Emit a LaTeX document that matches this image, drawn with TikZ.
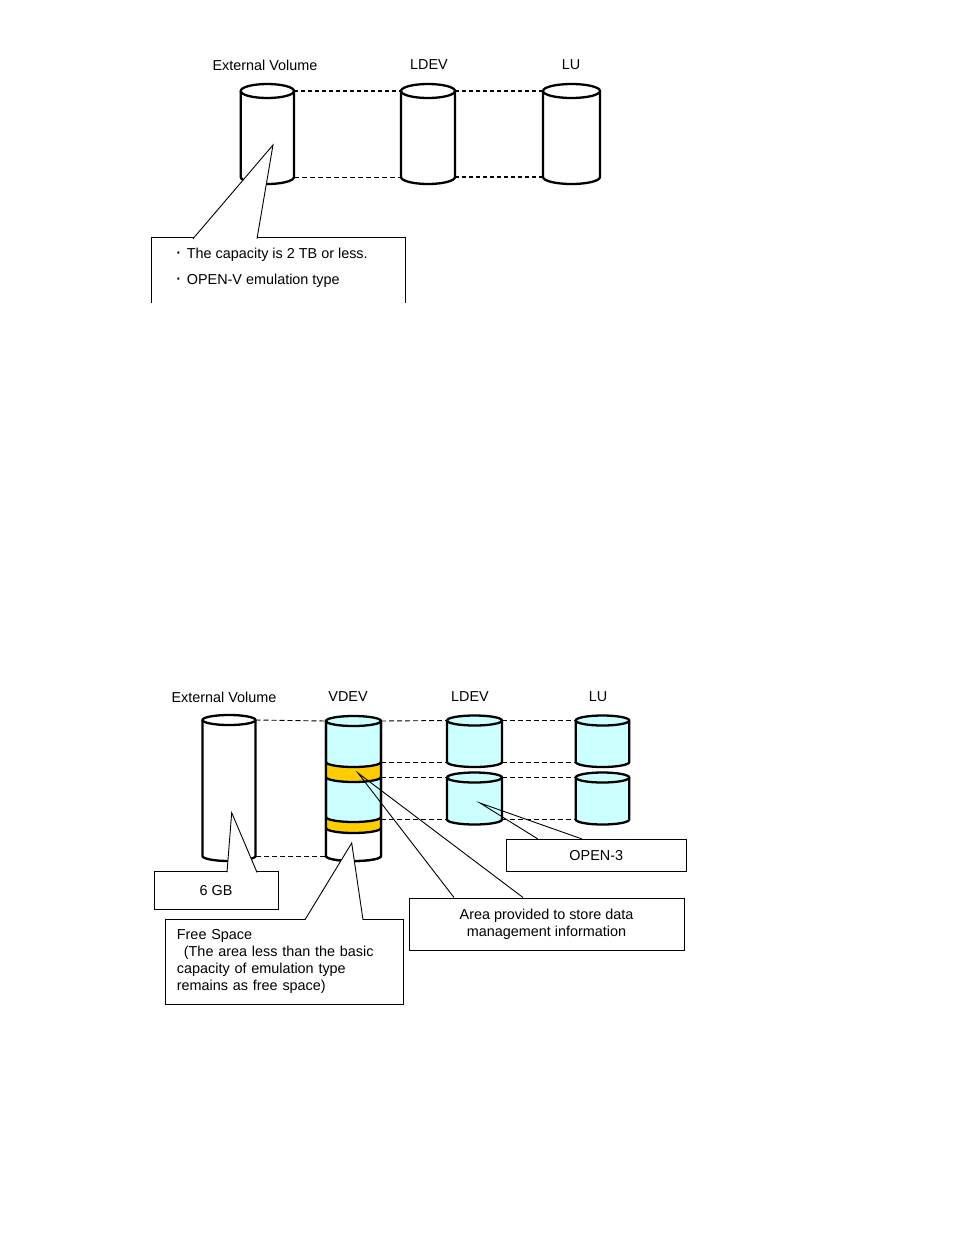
\documentclass[tikz,border=0pt]{standalone}
\usepackage{fontspec}
\setmainfont{Liberation Sans}
\usepackage{tikz}
\definecolor{volcyan}{HTML}{CCFFFF}
\definecolor{bandgold}{HTML}{FFCC00}

% half height of the cylinder caps
\def\ry{7}
% bigger list dot
\newcommand{\listdot}{{\fontsize{20}{17}\selectfont·}\hspace{5pt}}

% body strip between two front arcs: left x, right x, upper y, lower y, colour
\newcommand{\slab}[5]{%
  \fill[#5] (#1,#3) arc[start angle=180, end angle=0, x radius={(#2-#1)/2}, y radius=\ry]
    -- (#2,#4) arc[start angle=0, end angle=180, x radius={(#2-#1)/2}, y radius=\ry] -- cycle;}
% front arc only
\newcommand{\frontarc}[3]{%
  \draw[cyl] (#1,#3) arc[start angle=180, end angle=0, x radius={(#2-#1)/2}, y radius=\ry];}
% sides and bottom of a cylinder
\newcommand{\rim}[4]{%
  \draw[cyl] (#1,#3) -- (#1,#4) arc[start angle=180, end angle=0, x radius={(#2-#1)/2}, y radius=\ry] -- (#2,#3);}
% whole cylinder: name, left x, right x, top y, bottom y, colour
\newcommand{\volume}[6]{%
  \slab{#2}{#3}{#4}{#5}{#6}
  \filldraw[cyl, fill=#6] ({(#2+#3)/2},#4) ellipse[x radius={(#3-#2)/2}, y radius=\ry];
  \rim{#2}{#3}{#4}{#5}
  \coordinate (#1-nw) at (#2,#4); \coordinate (#1-ne) at (#3,#4);
  \coordinate (#1-sw) at (#2,#5); \coordinate (#1-se) at (#3,#5);}

\begin{document}
\begin{tikzpicture}[
  x=1pt, y=-1pt,
  cyl/.style={line width=2.3pt, line join=round},
  link/.style={dash pattern=on 5pt off 3pt, line width=0.9pt},
  boldlink/.style={dash pattern=on 4pt off 3pt, line width=2pt},
  title/.style={font=\fontsize{14.4}{17}\selectfont, inner sep=0pt},
  note/.style={draw, line width=0.9pt, fill=white, font=\fontsize{14.4}{16.9}\selectfont, inner sep=0pt, align=center},
  pointer/.style={draw, line width=0.9pt, fill=white},
  leader/.style={line width=0.9pt}
]
\useasboundingbox (0,0) rectangle (954,1235);

% === External volume mapped straight to an LDEV ===
\node[title] (lblExtA) at (265,65) {External Volume};
\node[title] (lblLdevA) at (429,65) {LDEV};
\node[title] (lblLuA) at (571,65) {LU};

\volume{extA}{240.7}{294}{91}{177}{white}
\volume{ldevA}{401}{455}{91}{177}{white}
\volume{luA}{543}{600}{91}{177}{white}

\draw[boldlink] (extA-ne) -- (ldevA-nw);
\draw[boldlink] (ldevA-ne) -- (luA-nw);
\draw[link] (extA-se) -- (ldevA-sw);
\draw[boldlink] (ldevA-se) -- (luA-sw);

\coordinate (extA-tip) at (273,145);
\node[minimum width=253.3, minimum height=65.5, inner sep=0pt, outer sep=0pt, anchor=north west] (capBox) at (151.7,237.5) {};
\draw[line width=0.9pt] (capBox.south west) -- (capBox.north west) -- (capBox.north east) -- (capBox.south east);
\filldraw[pointer] ([xshift=41.3pt,yshift=-1.2pt]capBox.north west) -- (extA-tip) -- ([xshift=105.3pt,yshift=-1.2pt]capBox.north west);
\node[title, anchor=base west] (capLine1) at (175,258) {\listdot The capacity is 2 TB or less.};
\node[title, anchor=base west] (capLine2) at (175,284) {\listdot OPEN-V emulation type};

% === External volume split through a VDEV ===
\def\ry{5}
\node[title] (lblExtB) at (224,697) {External Volume};
\node[title] (lblVdev) at (348,697) {VDEV};
\node[title] (lblLdevB) at (470,697) {LDEV};
\node[title] (lblLuB) at (598,697) {LU};

\volume{extB}{202.5}{255.5}{720}{856}{white}

\volume{vdev}{326}{381}{721}{856}{volcyan}
\slab{326}{381}{762}{777}{bandgold}
\slab{326}{381}{817}{828}{bandgold}
\slab{326}{381}{828}{856}{white}
\foreach \yy in {762,777,817,828} {\frontarc{326}{381}{\yy}}
\rim{326}{381}{721}{856}
\coordinate (vdev-b1) at (381,762);
\coordinate (vdev-b2) at (381,777.5);
\coordinate (vdev-b3) at (381,819.5);

\volume{ldevB1}{447}{502}{720.5}{762}{volcyan}
\volume{ldevB2}{447}{502}{777.5}{819.5}{volcyan}
\volume{luB1}{575.7}{629.3}{720.5}{762}{volcyan}
\volume{luB2}{575.7}{629.3}{777.5}{819.5}{volcyan}

\draw[link] (extB-ne) -- (vdev-nw);
\draw[link] (vdev-ne) -- (ldevB1-nw);
\draw[link] (ldevB1-ne) -- (luB1-nw);
\draw[link] (vdev-b1) -- (ldevB1-sw);
\draw[link] (ldevB1-se) -- (luB1-sw);
\draw[link] (vdev-b2) -- (ldevB2-nw);
\draw[link] (ldevB2-ne) -- (luB2-nw);
\draw[link] (vdev-b3) -- (ldevB2-sw);
\draw[link] (ldevB2-se) -- (luB2-sw);
\draw[link] (extB-se) -- (vdev-sw);

% callouts
\coordinate (extB-tip) at (231.7,812.7);
\coordinate (vdev-free) at (351.7,843);
\coordinate (vdev-band) at (358,773);
\coordinate (ldevB2-tip) at (480,803);

\node[note, minimum width=124, minimum height=37.3] (gbBox) at (216,890.3) {6 GB};
\filldraw[pointer] ([xshift=11pt,yshift=-1.2pt]gbBox.north) -- (extB-tip) -- ([xshift=41pt,yshift=-1.2pt]gbBox.north);

\node[note, minimum width=237.3, minimum height=85, text width=215, align=left] (freeBox) at (284.4,961.5)
  {Free Space\\\hspace*{7pt}(The area less than the basic\\capacity of emulation type\\remains as free space)};
\filldraw[pointer] ([xshift=20.6pt,yshift=-1.2pt]freeBox.north) -- (vdev-free) -- ([xshift=78.6pt,yshift=-1.2pt]freeBox.north);

\node[note, minimum width=275, minimum height=52.7] (areaBox) at (546.5,924.3)
  {Area provided to store data\\management information};
\draw[leader] ([xshift=-92.5pt]areaBox.north) -- (vdev-band) -- ([xshift=-23.5pt]areaBox.north);

\node[note, minimum width=179.3, minimum height=32.4] (openBox) at (596.3,855.5) {OPEN-3};
\draw[leader] ([xshift=-58.6pt]openBox.north) -- (ldevB2-tip) -- ([xshift=-14.6pt]openBox.north);

\end{tikzpicture}
\end{document}
